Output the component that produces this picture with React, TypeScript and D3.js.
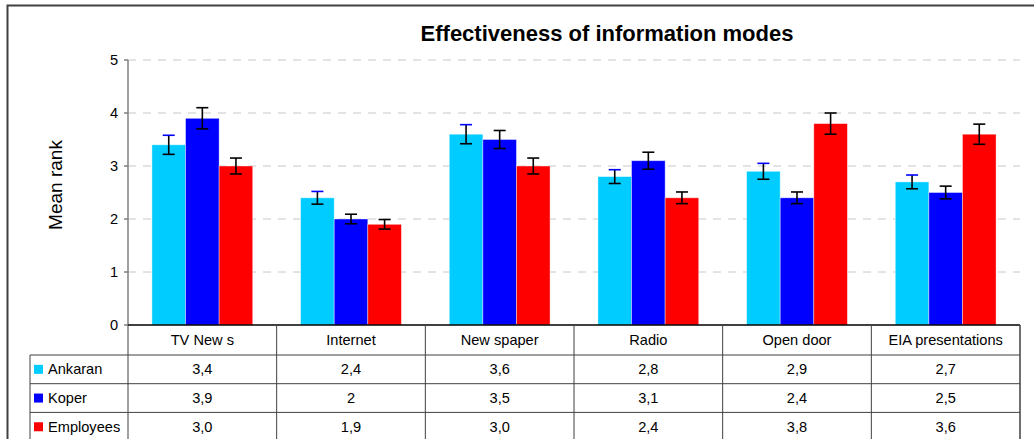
import React from "react";
import * as d3 from "d3";

const categories = ["TV New s", "Internet", "New spaper", "Radio", "Open door", "EIA presentations"];
const seriesNames = ["Ankaran", "Koper", "Employees"];
const seriesColors = ["#00CCFF", "#0000FF", "#FF0000"];
const ankaran = [3.4, 2.4, 3.6, 2.8, 2.9, 2.7];
const koper = [3.9, 2.0, 3.5, 3.1, 2.4, 2.5];
const employees = [3.0, 1.9, 3.0, 2.4, 3.8, 3.6];
const ankaranErr = [0.18, 0.12, 0.18, 0.13, 0.15, 0.13];
const koperErr = [0.2, 0.09, 0.17, 0.16, 0.11, 0.12];
const employeesErr = [0.15, 0.09, 0.15, 0.11, 0.2, 0.19];
const tableLabels = [
  ["3,4", "2,4", "3,6", "2,8", "2,9", "2,7"],
  ["3,9", "2", "3,5", "3,1", "2,4", "2,5"],
  ["3,0", "1,9", "3,0", "2,4", "3,8", "3,6"],
];
const yTicks = [0, 1, 2, 3, 4, 5];

const W = 1034;
const H = 439;
const font = "'Liberation Sans', Arial, sans-serif";

export default function App() {
  const left = 128;
  const right = 1020;
  const top = 60;
  const bottom = 325;
  const series = [ankaran, koper, employees];
  const errs = [ankaranErr, koperErr, employeesErr];

  const x0 = d3.scaleBand<string>().domain(categories).range([left, right]).paddingInner(0.322).paddingOuter(0.161);
  const xc = d3.scaleBand<string>().domain(categories).range([left, right]);
  const x1 = d3.scaleBand<string>().domain(seriesNames).range([0, x0.bandwidth()]);
  const y = d3.scaleLinear().domain([0, 5]).range([bottom, top]);

  const headerBottom = 355;
  const rowH = 28.7;
  const tableLeft = 30;
  const fs = 14.6;

  return (
    <svg width={W} height={H} style={{ position: "absolute", left: 0, top: 0, background: "#fff" }} fontFamily={font}>
      <rect x={0} y={0} width={W} height={H} fill="#fff" />
      <rect x={7.5} y={5.5} width={W + 20} height={H + 20} fill="none" stroke="#404040" strokeWidth={2} />
      <text x={607} y={41} textAnchor="middle" fontSize={22} fontWeight="bold" fill="#000">
        Effectiveness of information modes
      </text>
      <text transform={`translate(62,185) rotate(-90)`} textAnchor="middle" fontSize={19} fill="#000">
        Mean rank
      </text>
      {yTicks.filter((t) => t > 0).map((t) => (
        <line key={"g" + t} x1={left} x2={right} y1={y(t)} y2={y(t)} stroke="#c8c8c8" strokeWidth={1} strokeDasharray="8,7" />
      ))}
      {yTicks.map((t) => (
        <g key={"t" + t}>
          <line x1={left - 4} x2={left} y1={y(t)} y2={y(t)} stroke="#404040" />
          <text x={118} y={y(t) + 5} textAnchor="end" fontSize={fs} fill="#000">
            {t}
          </text>
        </g>
      ))}
      {categories.map((c, i) => (
        <g key={c}>
          {series.map((s, j) => {
            const bx = (x0(c) as number) + (x1(seriesNames[j]) as number);
            const bw = x1.bandwidth();
            return (
              <rect key={j} x={bx} y={y(s[i])} width={bw} height={y(0) - y(s[i])} fill={seriesColors[j]} stroke="rgba(255,255,255,0.5)" strokeWidth={0.8} />
            );
          })}
          {series.map((s, j) => {
            const cx = (x0(c) as number) + (x1(seriesNames[j]) as number) + x1.bandwidth() / 2;
            const yt = y(s[i] + errs[j][i]);
            const yb = y(s[i] - errs[j][i]);
            return (
              <g key={"e" + j}>
                <line x1={cx} x2={cx} y1={yt} y2={yb} stroke="#000" strokeWidth={1.6} />
                <line x1={cx - 6} x2={cx + 6} y1={yt} y2={yt} stroke={j === 0 ? "#0000FF" : "#000"} strokeWidth={1.6} />
                <line x1={cx - 6} x2={cx + 6} y1={yb} y2={yb} stroke="#000" strokeWidth={1.6} />
              </g>
            );
          })}
        </g>
      ))}
      <line x1={left} x2={left} y1={top} y2={bottom} stroke="#808080" strokeWidth={1.5} />
      {/* table */}
      <line x1={left} x2={right} y1={bottom} y2={bottom} stroke="#000" strokeWidth={1.5} />
      <line x1={tableLeft} x2={right} y1={headerBottom} y2={headerBottom} stroke="#404040" strokeWidth={1.2} />
      {[1, 2, 3].map((r) => (
        <line key={"h" + r} x1={tableLeft} x2={right} y1={headerBottom + rowH * r} y2={headerBottom + rowH * r} stroke="#404040" strokeWidth={1} />
      ))}
      <line x1={tableLeft} x2={tableLeft} y1={headerBottom} y2={H} stroke="#404040" strokeWidth={1} />
      <line x1={left} x2={left} y1={bottom} y2={H} stroke="#404040" strokeWidth={1} />
      {categories.map((c) => (
        <line key={"v" + c} x1={(xc(c) as number) + xc.bandwidth()} x2={(xc(c) as number) + xc.bandwidth()} y1={bottom} y2={H} stroke="#404040" strokeWidth={c === categories[categories.length - 1] ? 1.5 : 1} />
      ))}
      {categories.map((c) => (
        <text key={"c" + c} x={(xc(c) as number) + xc.bandwidth() / 2} y={345} textAnchor="middle" fontSize={fs} fill="#000">
          {c}
        </text>
      ))}
      {seriesNames.map((n, r) => (
        <g key={"l" + n}>
          <rect x={34} y={headerBottom + rowH * r + rowH / 2 - 4.5} width={9} height={9} fill={seriesColors[r]} />
          <text x={48} y={headerBottom + rowH * r + rowH / 2 + 5} fontSize={fs} fill="#000">
            {n}
          </text>
          {categories.map((c, i) => (
            <text key={c} x={(xc(c) as number) + xc.bandwidth() / 2} y={headerBottom + rowH * r + rowH / 2 + 5} textAnchor="middle" fontSize={fs} fill="#000">
              {tableLabels[r][i]}
            </text>
          ))}
        </g>
      ))}
    </svg>
  );
}
